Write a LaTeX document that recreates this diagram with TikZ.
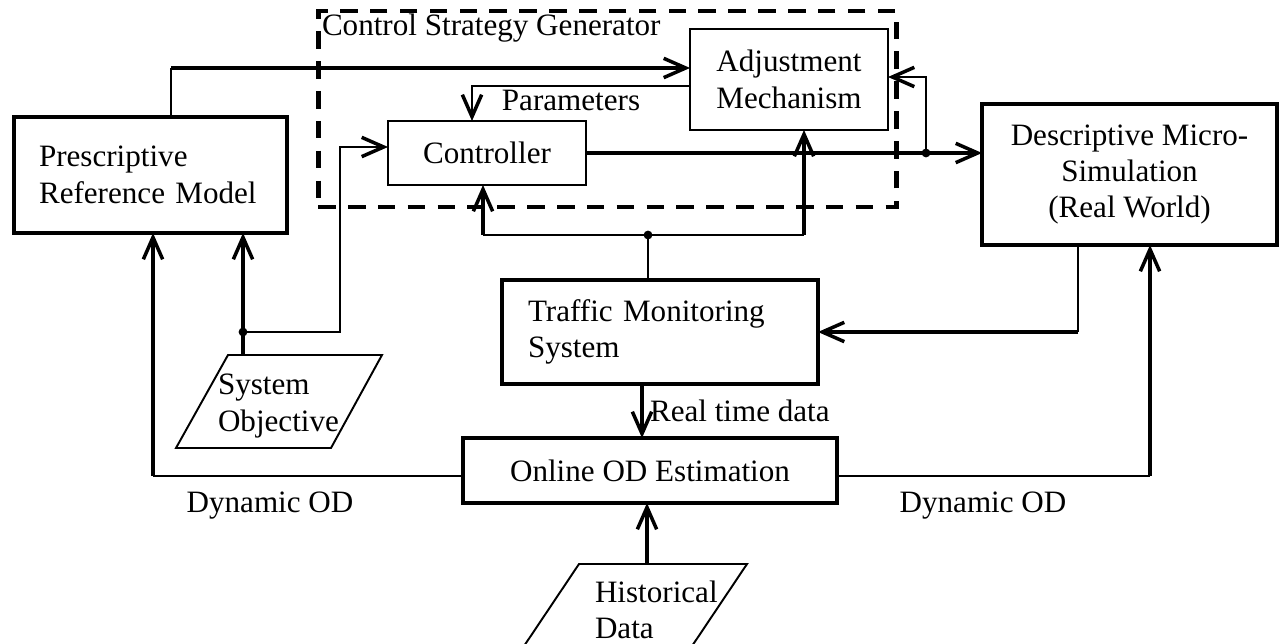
\documentclass[tikz,border=0pt]{standalone}
\usepackage{fontspec}
\setmainfont{Liberation Serif}
\usetikzlibrary{arrows.meta}

\begin{document}
\begin{tikzpicture}[x=0.02cm,y=-0.02cm,inner sep=0pt,outer sep=0pt,
font=\fontsize{17.7}{20.7}\selectfont,
>={Straight Barb[length=12.5pt,width=11pt,line width=2pt 0]},
heavybox/.style={draw,rectangle,line width=2.6pt},
lightbox/.style={draw,rectangle,line width=1.1pt},
groupbox/.style={draw,rectangle,line width=2.8pt,dash pattern=on 10pt off 7pt},
heavyline/.style={line width=2.1pt},
lightline/.style={line width=1.1pt},
junction/.style={circle,fill,minimum size=5pt}]
\useasboundingbox (0,0) rectangle (1280,644);
\draw (607.5,109) node[groupbox,minimum width=11.58cm,minimum height=3.92cm] (csg) {};
\draw (322,36) node[anchor=base west] (lblcsg) {Control Strategy Generator};
\draw (150.5,175) node[heavybox,minimum width=5.46cm,minimum height=2.32cm,text width=4.46cm,align=left] (prm) {Prescriptive\\Reference Model};
\draw (789,79.5) node[lightbox,minimum width=3.96cm,minimum height=2.02cm,align=center] (adj) {Adjustment\\Mechanism};
\draw (487,153) node[lightbox,minimum width=3.96cm,minimum height=1.28cm] (ctrl) {Controller};
\draw (1129.5,174.5) node[heavybox,minimum width=5.9cm,minimum height=2.82cm,align=center] (dms) {Descriptive Micro-\\Simulation\\(Real World)};
\draw (660,332) node[heavybox,minimum width=6.32cm,minimum height=2.08cm,text width=5.28cm,align=left] (tms) {Traffic Monitoring\\System};
\draw (650,470.5) node[heavybox,minimum width=7.48cm,minimum height=1.3cm] (ode) {Online OD Estimation};
\draw[lightline] (228,355) -- (382,355) -- (331,448) -- (176,448) -- cycle;
\draw (218,406) node[anchor=west,align=left] (sobj) {System\\Objective};
\draw[lightline] (579,564) -- (747,564) -- (684,658) -- (516,658) -- cycle;
\draw (595,610) node[anchor=west,align=left] (hist) {Historical\\Data};
\draw (571,100) node (lblpar) {Parameters};
\draw (650,422) node[anchor=base west] (lblrtd) {Real time data};
\draw (270,512) node[anchor=base] (lbldodl) {Dynamic OD};
\draw (983,512) node[anchor=base] (lbldodr) {Dynamic OD};
\draw (243,332) node[junction] (j1) {};
\draw (926,153) node[junction] (j2) {};
\draw (648,235) node[junction] (j3) {};
\coordinate (ptap) at (171,68);
\coordinate (pbend) at (472,86);
\coordinate (sotop) at (243,355);
\coordinate (cin) at (340,147);
\coordinate (afb) at (926,77);
\coordinate (cfb) at (483,235);
\coordinate (afb2) at (804,235);
\coordinate (rtdx) at (642,410);
\coordinate (dfb) at (1078,332);
\coordinate (odl) at (153,476);
\coordinate (odr) at (1150,476);
\coordinate (hdtop) at (647,564);
\draw[lightline] (ptap |- prm.north) -- (ptap);
\draw[heavyline,->] (ptap) -- (ptap -| adj.west);
\draw[lightline,->] (pbend -| adj.west) -- (pbend) -- (pbend |- ctrl.north);
\draw[heavyline,->] (sotop) -- (sotop |- prm.south);
\draw[lightline,->] (j1.center) -| (cin) -- (cin -| ctrl.west);
\draw[heavyline,->] (ctrl.east) -- (ctrl.east -| dms.west);
\draw[lightline,->] (j2.center) -- (afb) -- (afb -| adj.east);
\draw[lightline] (j3 |- tms.north) -- (j3.center);
\draw[lightline] (cfb) -- (afb2);
\draw[heavyline,->] (cfb) -- (cfb |- ctrl.south);
\draw[heavyline,->] (afb2) -- (afb2 |- adj.south);
\draw[heavyline,->] (rtdx |- tms.south) -- (rtdx |- ode.north);
\draw[lightline] (dfb |- dms.south) -- (dfb);
\draw[heavyline,->] (dfb) -- (dfb -| tms.east);
\draw[lightline] (odl -| ode.west) -- (odl);
\draw[heavyline,->] (odl) -- (odl |- prm.south);
\draw[lightline] (odr -| ode.east) -- (odr);
\draw[heavyline,->] (odr) -- (odr |- dms.south);
\draw[heavyline,->] (hdtop) -- (hdtop |- ode.south);
\end{tikzpicture}
\end{document}
